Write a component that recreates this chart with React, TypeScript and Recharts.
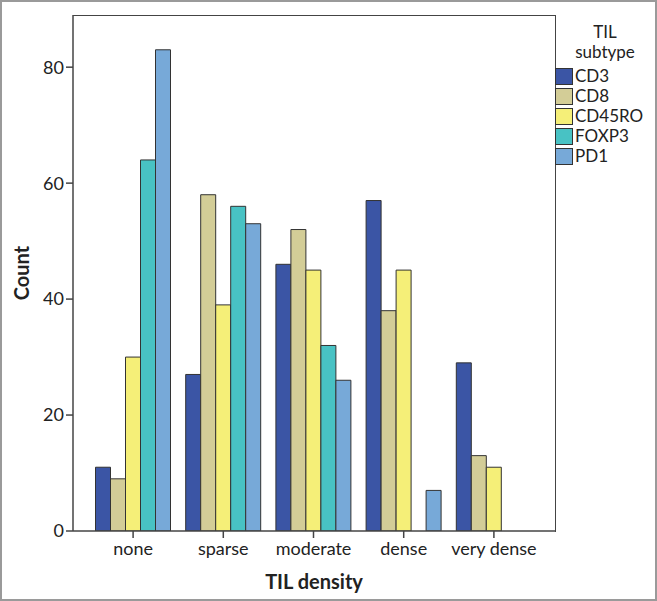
import React from 'react';
import { BarChart, Bar, XAxis, YAxis } from 'recharts';

const densities = ['none', 'sparse', 'moderate', 'dense', 'very dense'];
const cd3 = [11, 27, 46, 57, 29];
const cd8 = [9, 58, 52, 38, 13];
const cd45ro = [30, 39, 45, 45, 11];
const foxp3 = [64, 56, 32, 0, 0];
const pd1 = [83, 53, 26, 7, 0];
const yTicks = [0, 20, 40, 60, 80];

const series = [
  { key: 'CD3', color: '#3b55a5' },
  { key: 'CD8', color: '#d3cd97' },
  { key: 'CD45RO', color: '#f5ef78' },
  { key: 'FOXP3', color: '#48c2c4' },
  { key: 'PD1', color: '#77a9d8' },
];

const data = densities.map((d, i) => ({
  density: d,
  CD3: cd3[i],
  CD8: cd8[i],
  CD45RO: cd45ro[i],
  FOXP3: foxp3[i],
  PD1: pd1[i],
}));

const font = 'Lato, "Open Sans", sans-serif';
const axisColor = '#444';

export default function App() {
  return (
    <div
      style={{
        position: 'absolute',
        top: 0,
        left: 0,
        width: 657,
        height: 601,
        boxSizing: 'border-box',
        border: '2px solid #9a9a9a',
        background: '#fff',
        fontFamily: font,
      }}
    >
      <div style={{ position: 'absolute', top: -2, left: -2 }}>
        <BarChart
          width={657}
          height={601}
          data={data}
          margin={{ top: 15, right: 102, bottom: 0, left: 0 }}
          barCategoryGap={7.5}
          barGap={0}
        >
          <XAxis
            dataKey="density"
            height={70}
            padding={{ left: 15, right: 16 }}
            axisLine={{ stroke: axisColor, strokeWidth: 1.5 }}
            tickLine={{ stroke: axisColor, strokeWidth: 1.5 }}
            tickSize={7}
            tickMargin={4}
            tick={{ fill: '#222', fontSize: 18, fontFamily: font }}
            label={{
              value: 'TIL density',
              position: 'insideBottom',
              offset: 12,
              fill: '#222',
              fontSize: 20,
              fontWeight: 700,
              fontFamily: font,
            }}
          />
          <YAxis
            width={73}
            domain={[0, 89]}
            ticks={yTicks}
            allowDataOverflow
            axisLine={{ stroke: axisColor, strokeWidth: 1.5 }}
            tickLine={{ stroke: axisColor, strokeWidth: 1.5 }}
            tickSize={7}
            tick={{ fill: '#222', fontSize: 18, fontFamily: font }}
            label={{
              value: 'Count',
              angle: -90,
              position: 'insideLeft',
              offset: 22,
              style: { textAnchor: 'middle' },
              fill: '#222',
              fontSize: 20,
              fontWeight: 700,
              fontFamily: font,
            }}
          />
          {series.map((s) => (
            <Bar
              key={s.key}
              dataKey={s.key}
              fill={s.color}
              stroke="#333"
              strokeWidth={1}
              isAnimationActive={false}
            />
          ))}
        </BarChart>
      </div>
      {/* plot frame (top and right edges of the box) */}
      <div
        style={{
          position: 'absolute',
          left: 71,
          top: 13,
          width: 482,
          height: 516,
          borderTop: `1.5px solid ${axisColor}`,
          borderRight: `1.5px solid ${axisColor}`,
          pointerEvents: 'none',
        }}
      />
      <div
        style={{
          position: 'absolute',
          left: 553,
          top: 20,
          width: 100,
          color: '#222',
          fontSize: 17,
        }}
      >
        <div style={{ textAlign: 'center', lineHeight: '20px', marginBottom: 4 }}>
          <div>TIL</div>
          <div>subtype</div>
        </div>
        {series.map((s) => (
          <div
            key={s.key}
            style={{
              display: 'flex',
              alignItems: 'center',
              height: 20,
              lineHeight: '18px',
            }}
          >
            <span
              style={{
                display: 'inline-block',
                width: 16,
                height: 15,
                background: s.color,
                border: '1px solid #333',
                marginRight: 2,
                flexShrink: 0,
              }}
            />
            <span>{s.key}</span>
          </div>
        ))}
      </div>
    </div>
  );
}
